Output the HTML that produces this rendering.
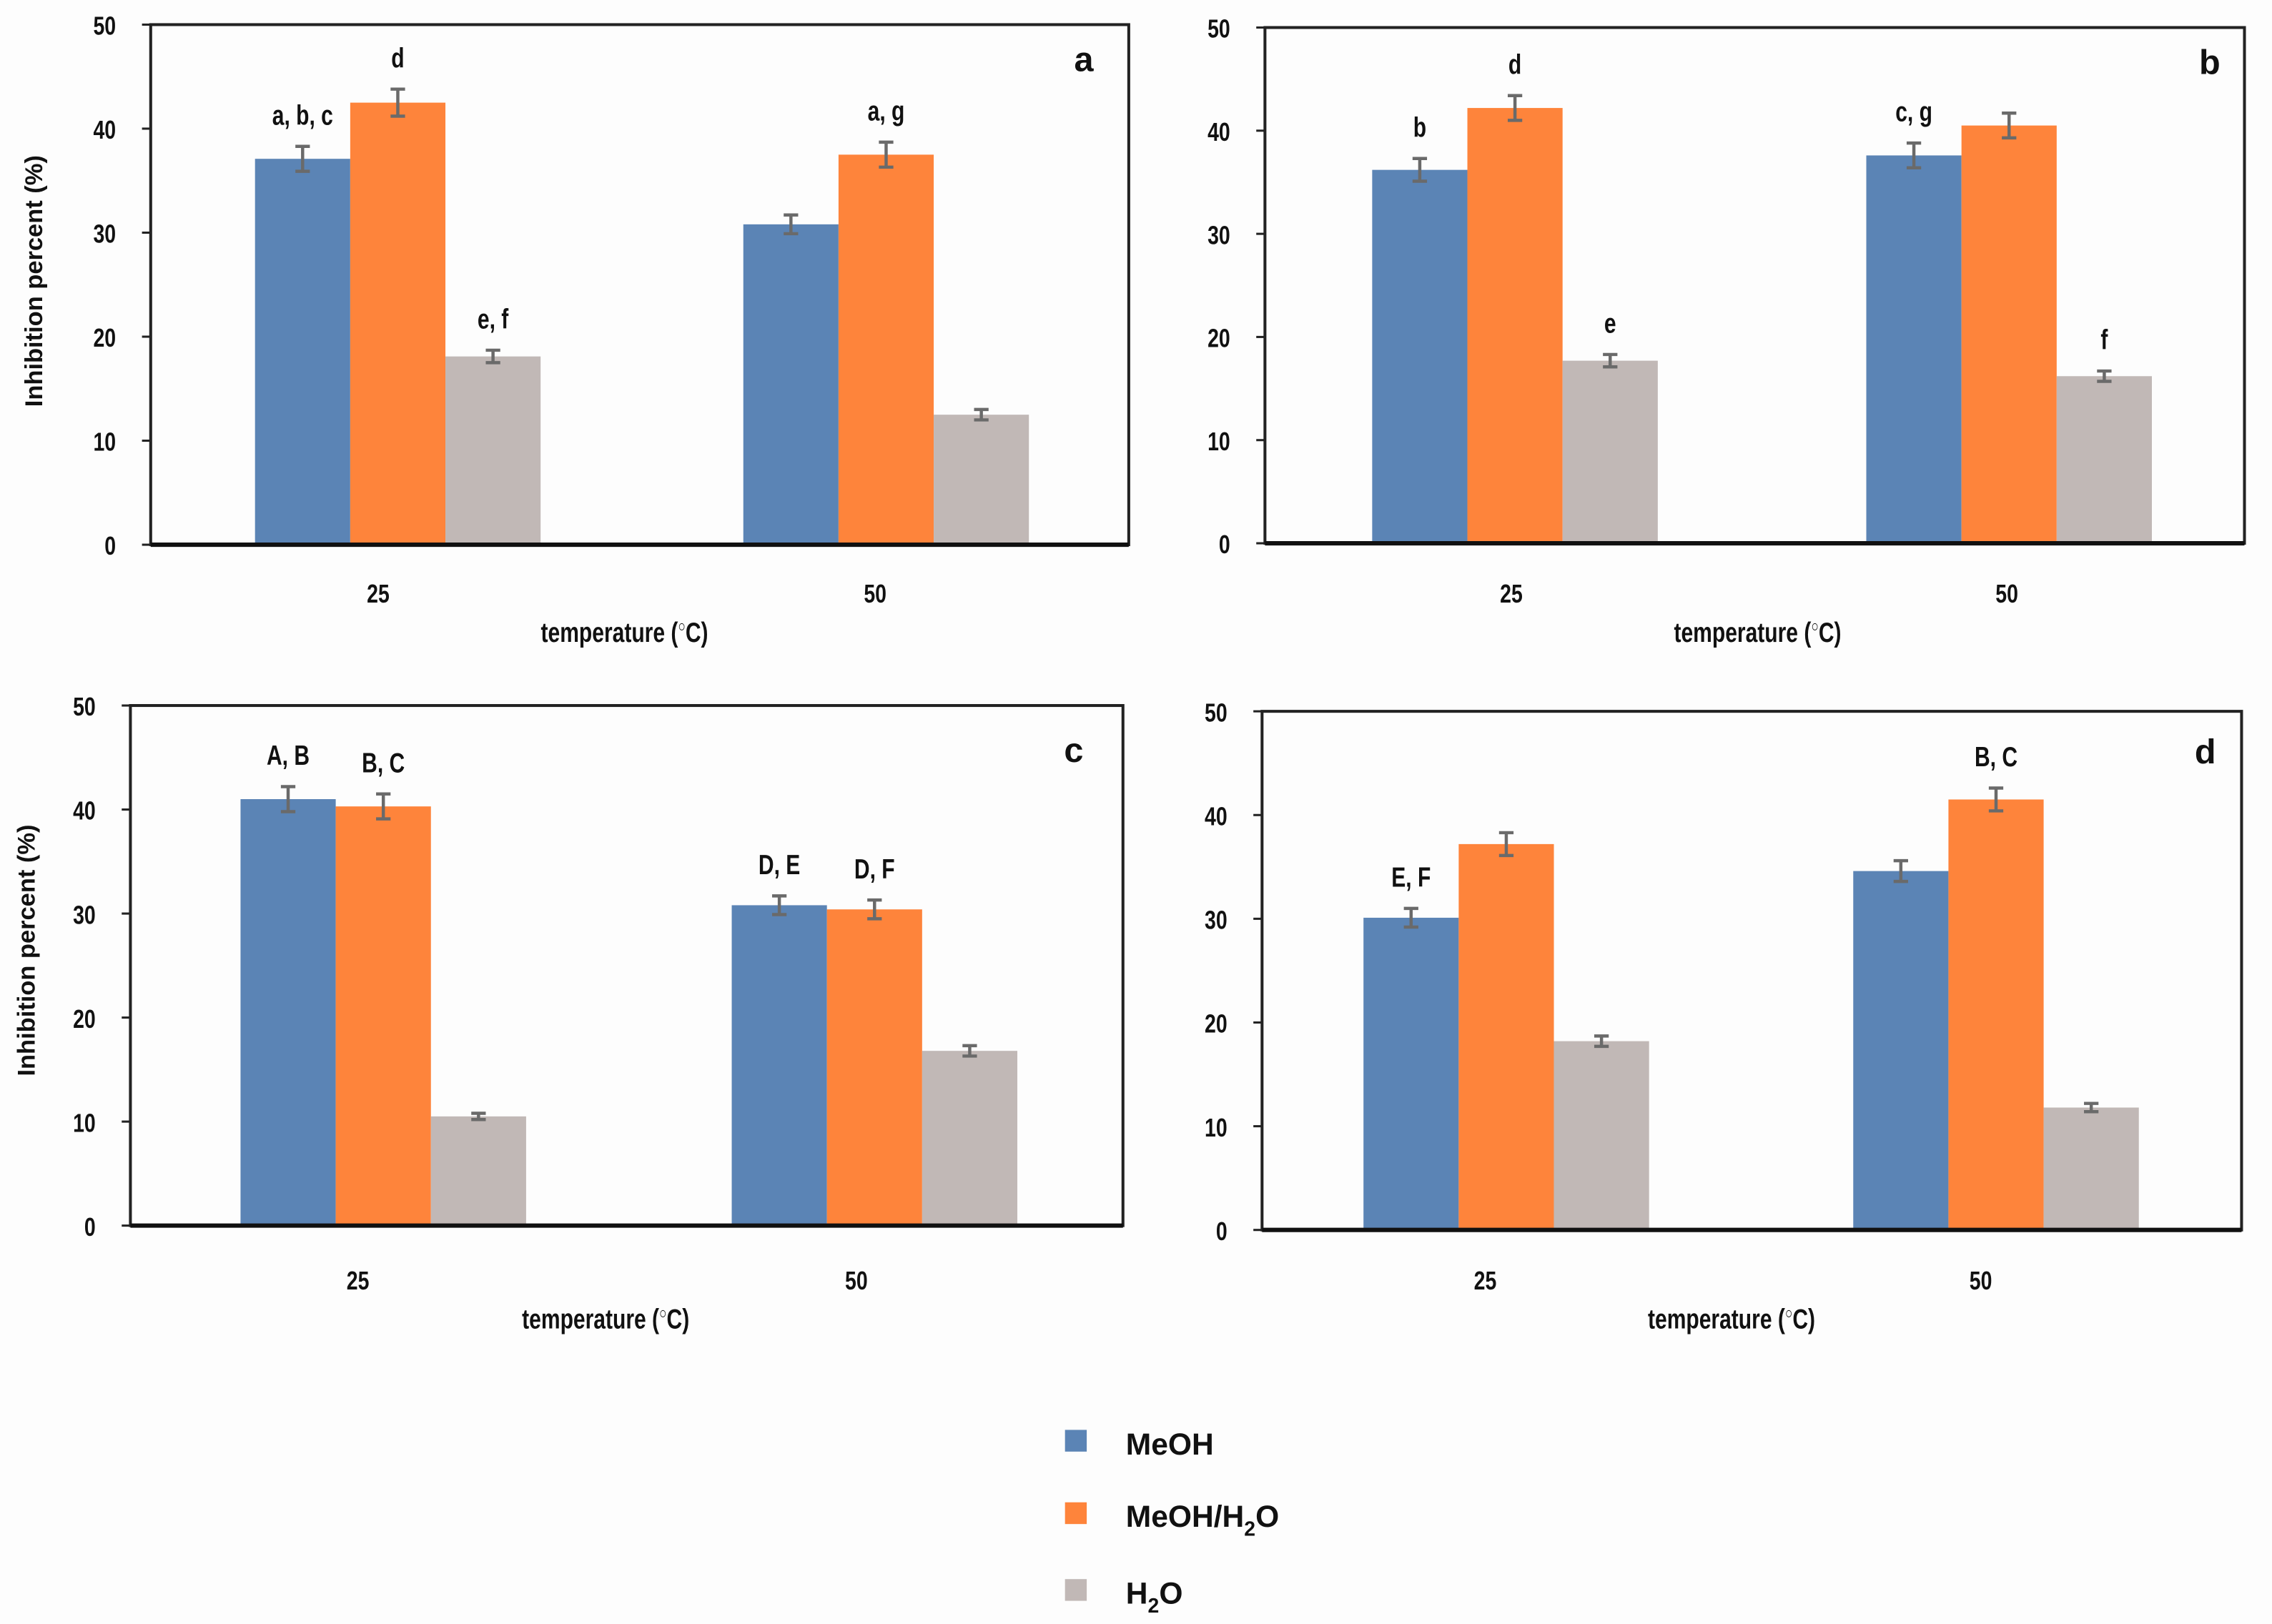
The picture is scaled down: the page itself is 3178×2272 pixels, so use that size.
<!DOCTYPE html>
<html><head><meta charset="utf-8"><style>
html,body{margin:0;padding:0;background:#fdfdfd;}
svg{display:block;}
.tk{font-family:"Liberation Sans",sans-serif;font-weight:bold;font-size:18px;fill:#111;}
.ln{font-family:"Liberation Sans",sans-serif;font-weight:bold;font-size:19px;fill:#111;}
.pl{font-family:"Liberation Sans",sans-serif;font-weight:bold;font-size:24px;fill:#111;}
.yt{font-family:"Liberation Sans",sans-serif;font-weight:bold;font-size:17px;fill:#111;}
.lg{font-family:"Liberation Sans",sans-serif;font-weight:bold;font-size:21px;fill:#111;}
</style></head><body>
<svg id="fig" width="3178" height="2272" viewBox="0 0 1568 1121" preserveAspectRatio="none" xmlns="http://www.w3.org/2000/svg"></svg>
<script>
const categories = ["25", "50"];
const yTicks = [0, 10, 20, 30, 40, 50];
const seriesNames = ["MeOH", "MeOH/H2O", "H2O"];
const colors = ["#5b84b5", "#fe843b", "#c1b8b6"];
const aMeOH = [37.1, 30.8], aMix = [42.5, 37.5], aH2O = [18.1, 12.5];
const aErrMeOH = [1.2, 0.9], aErrMix = [1.3, 1.2], aErrH2O = [0.6, 0.5];
const aLetters = [["a, b, c", "d", "e, f"], ["", "a, g", ""]];
const bMeOH = [36.2, 37.6], bMix = [42.2, 40.5], bH2O = [17.7, 16.2];
const bErrMeOH = [1.1, 1.2], bErrMix = [1.2, 1.2], bErrH2O = [0.6, 0.5];
const bLetters = [["b", "d", "e"], ["c, g", "", "f"]];
const cMeOH = [41.0, 30.8], cMix = [40.3, 30.4], cH2O = [10.5, 16.8];
const cErrMeOH = [1.2, 0.9], cErrMix = [1.2, 0.9], cErrH2O = [0.3, 0.5];
const cLetters = [["A, B", "B, C", ""], ["D, E", "D, F", ""]];
const dMeOH = [30.1, 34.6], dMix = [37.2, 41.5], dH2O = [18.2, 11.8];
const dErrMeOH = [0.9, 1.0], dErrMix = [1.1, 1.1], dErrH2O = [0.5, 0.4];
const dLetters = [["E, F", "", ""], ["", "B, C", ""]];

const NS = "http://www.w3.org/2000/svg";
const svg = document.getElementById("fig");
function mk(tag, attrs, parent, text) {
  const e = document.createElementNS(NS, tag);
  for (const k in attrs) e.setAttribute(k, attrs[k]);
  if (text !== undefined) e.textContent = text;
  (parent || svg).appendChild(e);
  return e;
}
function ntext(x, y, anchor, cls, parent, text) {
  return mk("text", {x:0, y:0, transform:`translate(${x},${y}) scale(0.78,1)`, "text-anchor":anchor, class:cls}, parent, text);
}
const panels = [
  {id:"a", L:104, T:17, R:779, B:376, g0:[176, 513], yTitleX:29, yTitleY:194, catX:[261, 604], catY:416, titleX:431, titleY:443, vals:[aMeOH, aMix, aH2O], errs:[aErrMeOH, aErrMix, aErrH2O], letters:aLetters, labX:748, labY:49},
  {id:"b", L:873, T:19, R:1549, B:375, g0:[947, 1288], yTitleX:0, yTitleY:0, catX:[1043, 1385], catY:416, titleX:1213, titleY:443, vals:[bMeOH, bMix, bH2O], errs:[bErrMeOH, bErrMix, bErrH2O], letters:bLetters, labX:1525, labY:51},
  {id:"c", L:90, T:487, R:775, B:846, g0:[166, 505], yTitleX:24, yTitleY:656, catX:[247, 591], catY:890, titleX:418, titleY:917, vals:[cMeOH, cMix, cH2O], errs:[cErrMeOH, cErrMix, cErrH2O], letters:cLetters, labX:741, labY:526},
  {id:"d", L:871, T:491, R:1547, B:849, g0:[941, 1279], yTitleX:0, yTitleY:0, catX:[1025, 1367], catY:890, titleX:1195, titleY:917, vals:[dMeOH, dMix, dH2O], errs:[dErrMeOH, dErrMix, dErrH2O], letters:dLetters, labX:1522, labY:527}
];
const BW = 65.7;
panels.forEach(p => {
  const g = mk("g", {});
  
  
  const y = v => p.B - (v / 50) * (p.B - p.T);
  p.vals.forEach((arr, s) => {
    arr.forEach((v, c) => {
      const x = p.g0[c] + s * BW;
      const r = mk("rect", {x:x, y:y(v), width:BW, height:p.B - y(v), fill:colors[s]}, g);
      
      
      const e = p.errs[s][c], cx = x + BW / 2;
      const eb = mk("path", {d:`M${cx},${y(v+e)}V${y(v-e)}M${cx-5},${y(v+e)}H${cx+5}M${cx-5},${y(v-e)}H${cx+5}`, stroke:"#6a6a6a", "stroke-width":2.2, fill:"none"}, g);
      
      
      const lt = p.letters[c][s];
      if (lt) {
        const t = ntext(cx, y(v + e) - 15, "middle", "ln", g, lt);
        
        
      }
    });
  });
  const fr = mk("rect", {x:p.L, y:p.T, width:p.R - p.L, height:p.B - p.T, fill:"none", stroke:"#222", "stroke-width":2}, g);
  
  
  const xa = mk("line", {x1:p.L, x2:p.R, y1:p.B, y2:p.B, stroke:"#111", "stroke-width":3}, g);
  
  
  yTicks.forEach(t => {
    mk("line", {x1:p.L - 6, x2:p.L, y1:y(t), y2:y(t), stroke:"#222", "stroke-width":1.5}, g);
    const tl = ntext(p.L - 24, y(t) + 7, "end", "tk", g, String(t));
    
    
  });
  categories.forEach((c, i) => {
    const cl = ntext(p.catX[i], p.catY, "middle", "tk", g, c);
    
    
  });
  const xt = ntext(p.titleX, p.titleY, "middle", "ln", g);
  
  
  xt.innerHTML = 'temperature (<tspan dy="-7" font-size="11">○</tspan><tspan dy="7">C)</tspan>';
  if (p.yTitleX) {
    const yt = mk("text", {x:0, y:0, transform:`translate(${p.yTitleX},${p.yTitleY}) rotate(-90)`, "text-anchor":"middle", class:"yt"}, g, "Inhibition percent (%)");
    
    
  }
  const pl = mk("text", {x:p.labX, y:p.labY, "text-anchor":"middle", class:"pl"}, g, p.id);
  
  
});
const legY = [987, 1037, 1090];
const lg = mk("g", {});


seriesNames.forEach((n, i) => {
  const r = mk("rect", {x:735, y:legY[i], width:15, height:15, fill:colors[i]}, lg);
  
  
  const t = mk("text", {x:777, y:legY[i] + 17, class:"lg"}, lg);
  
  
  t.innerHTML = n.replace("H2O", 'H<tspan font-size="14" dy="6">2</tspan><tspan dy="-6">O</tspan>');
});
</script>
</body></html>
